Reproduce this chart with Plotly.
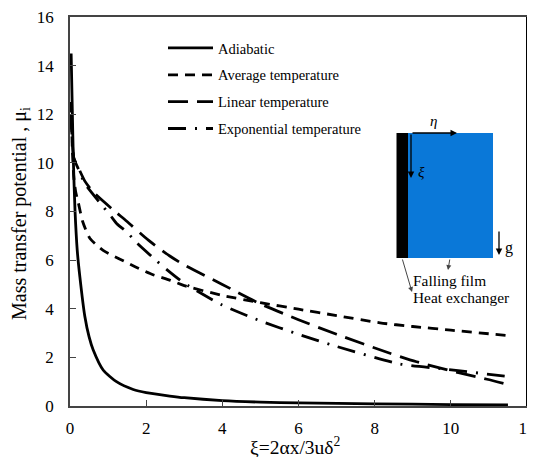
import plotly.graph_objects as go

# Data
adiabatic_x = [0.03, 0.06, 0.09, 0.13, 0.19, 0.26, 0.39, 0.5, 0.61, 0.87, 1.22, 1.66, 2, 2.62, 3, 4, 5, 6, 8, 10, 11.5]
adiabatic_y = [14.5, 12.2, 10.0, 8.1, 6.4, 5.3, 3.68, 2.85, 2.3, 1.48, 1.0, 0.68, 0.55, 0.41, 0.34, 0.22, 0.16, 0.13, 0.09, 0.06, 0.05]
average_x = [0.03, 0.06, 0.1, 0.15, 0.22, 0.33, 0.52, 0.87, 1.3, 1.75, 2.18, 2.62, 3, 4, 5, 6, 7, 8.14, 9, 10, 11.55]
average_y = [12.5, 10.6, 9.4, 8.8, 8.35, 7.6, 6.9, 6.4, 6.05, 5.7, 5.4, 5.18, 4.95, 4.55, 4.25, 3.98, 3.72, 3.42, 3.27, 3.12, 2.89]
linear_x = [0.03, 0.1, 0.22, 0.39, 0.61, 1.13, 1.49, 2.05, 2.62, 3, 4, 5, 6, 7, 8.4, 9.1, 10.2, 10.95, 11.55]
linear_y = [12.0, 10.2, 9.8, 9.25, 8.8, 8.07, 7.6, 6.83, 6.17, 5.8, 5.0, 4.2, 3.55, 2.95, 2.17, 1.82, 1.37, 1.1, 0.86]
exponential_x = [0.03, 0.1, 0.22, 0.39, 0.79, 1.05, 1.23, 1.49, 1.76, 2.18, 2.55, 3, 4, 5, 6, 7, 8.66, 9.9, 11.55]
exponential_y = [12.0, 10.2, 9.75, 9.15, 8.35, 7.86, 7.5, 7.16, 6.7, 6.1, 5.6, 5.05, 4.15, 3.5, 2.95, 2.45, 1.73, 1.51, 1.2]
x_ticks = [0, 2, 4, 6, 8, 10, 12]
y_ticks = [0, 2, 4, 6, 8, 10, 12, 14, 16]

PAGE = 8  # the page's own body margin
W, H = 535 - PAGE, 457 - PAGE
L, R, T, B = 70 - PAGE, 527 - PAGE, 17 - PAGE, 406 - PAGE
FONT = "Liberation Serif"


def px(x):
    return (x - PAGE - L) / (R - L)


def py(y):
    return (B - (y - PAGE)) / (B - T)


fig = go.Figure()
series = [
    ("Adiabatic", adiabatic_x, adiabatic_y, "solid"),
    ("Average temperature", average_x, average_y, "10px,7px"),
    ("Linear temperature", linear_x, linear_y, "20px,9px"),
    ("Exponential temperature", exponential_x, exponential_y, "18px,9px,2px,9px"),
]
for name, xs, ys, dash in series:
    fig.add_trace(go.Scatter(x=xs, y=ys, mode="lines", name=name, legendgroup=name,
                             line=dict(color="black", width=2.8, dash=dash, shape="spline", smoothing=0.6)))

shapes = [
    dict(type="rect", xref="paper", yref="paper", x0=px(408), x1=px(493), y0=py(258), y1=py(133),
         fillcolor="#0a78d8", line=dict(width=0), layer="above"),
    dict(type="rect", xref="paper", yref="paper", x0=px(396.5), x1=px(408), y0=py(258), y1=py(133),
         fillcolor="black", line=dict(width=0), layer="above"),
    dict(type="line", xref="paper", yref="paper", x0=1, x1=1, y0=0, y1=1,
         line=dict(color="black", width=2), layer="above"),
]


def arrow(x0, y0, x1, y1, color="black", width=1.3):
    return dict(xref="paper", yref="paper", x=px(x1), y=py(y1), axref="pixel", ayref="pixel",
                ax=x0 - x1, ay=y0 - y1, text="", showarrow=True, arrowhead=2, arrowsize=1,
                arrowwidth=width, arrowcolor=color)


def label(x, y, text, size=14, anchor="left"):
    return dict(xref="paper", yref="paper", x=px(x), y=py(y), text=text, showarrow=False,
                xanchor=anchor, yanchor="middle", font=dict(family=FONT, size=size, color="black"),
                borderpad=0)


annotations = [
    arrow(411, 133, 457, 133),
    arrow(411, 133, 411, 178),
    arrow(499, 230, 499, 255),
    arrow(450, 258, 448, 270, "#444444", 1),
    arrow(402, 258, 412, 292, "#444444", 1),
    label(433, 121, "<i>η</i>", 15, "center"),
    label(421, 172, "<i>ξ</i>", 15, "center"),
    label(504, 248, "g", 16),
    label(411.5, 280, "Falling film", 15.4),
    label(411.5, 298, "Heat exchanger", 15.4),
    dict(xref="paper", yref="paper", x=px(295), y=py(446), text="ξ=2αx/3uδ<sup>2</sup>", showarrow=False,
         xanchor="center", yanchor="middle", font=dict(family=FONT, size=19.5, color="black"), borderpad=0),
    dict(xref="paper", yref="paper", x=px(20), y=py(214), text="Mass transfer potential , μ<sub>i</sub>",
         textangle=-90, showarrow=False, xanchor="center", yanchor="middle",
         font=dict(family=FONT, size=20, color="black"), borderpad=0),
]

axis_style = dict(showgrid=False, zeroline=False, showline=True, linecolor="#444444", linewidth=1.5,
                  mirror=True, ticks="inside", ticklen=6, tickcolor="#444444", tickwidth=1.2,
                  automargin=False, ticklabeloverflow="allow",
                  tickfont=dict(family=FONT, size=17, color="black"))

fig.update_layout(
    template="none",
    width=W, height=H, autosize=False,
    margin=dict(l=L, r=W - R, t=T, b=H - B, pad=0),
    paper_bgcolor="white", plot_bgcolor="white",
    font=dict(family=FONT, color="black"),
    shapes=shapes, annotations=annotations,
    showlegend=True,
    legend=dict(x=px(163), y=py(32), xanchor="left", yanchor="top", bgcolor="rgba(0,0,0,0)",
                borderwidth=0, traceorder="grouped", tracegroupgap=5, itemwidth=45,
                font=dict(family=FONT, size=14.5, color="black")),
    xaxis=dict(range=[0, 12], tickvals=x_ticks, ticklabelstandoff=6, **axis_style),
    yaxis=dict(range=[0, 16], tickvals=y_ticks, ticklabelstandoff=11, **axis_style),
)
fig.write_html("out.html")
